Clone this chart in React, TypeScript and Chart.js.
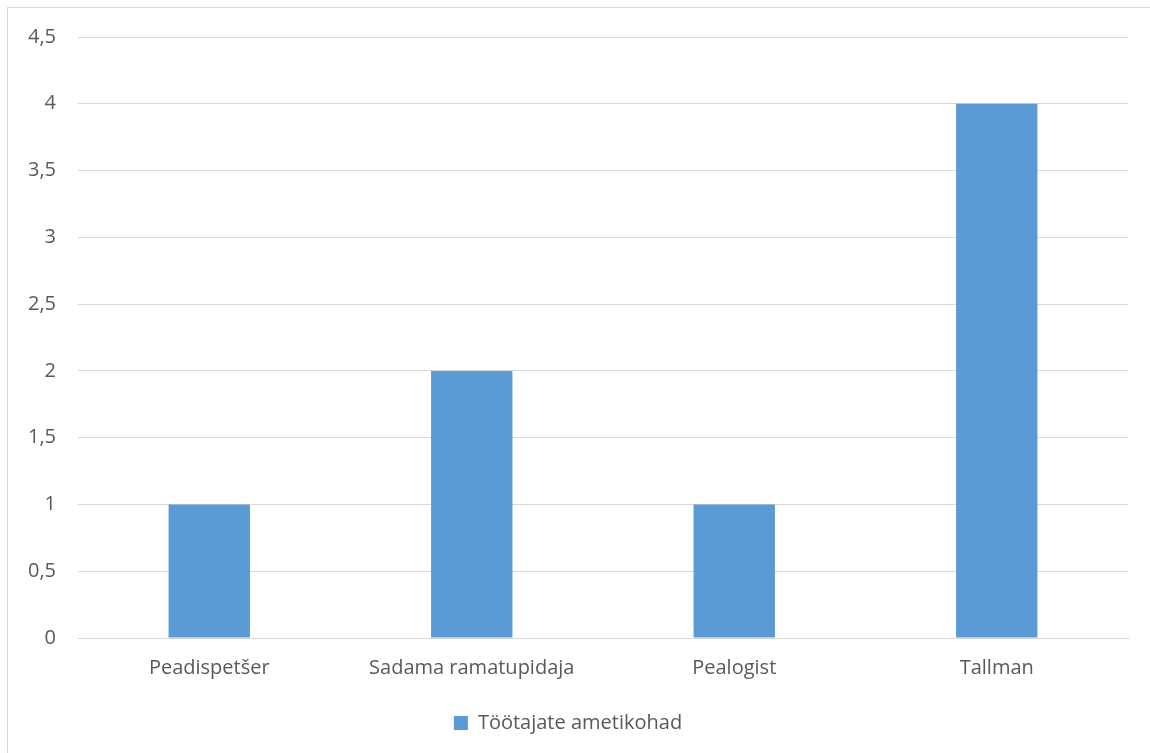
import React, { useEffect, useRef } from "react";
import { Chart, registerables } from "chart.js";

Chart.register(...registerables);

const categories = ["Peadispetšer", "Sadama ramatupidaja", "Pealogist", "Tallman"];
const seriesLabel = "Töötajate ametikohad";
const seriesValues = [1, 2, 1, 4];

const FONT = "'Open Sans', 'Noto Sans', sans-serif";
const TEXT = "#595959";
const GRID = "#d9d9d9";
const SIZE = 20;

export default function App() {
  const ref = useRef<HTMLCanvasElement | null>(null);

  useEffect(() => {
    if (!ref.current) return;
    const chart = new Chart(ref.current, {
      type: "bar",
      data: {
        labels: categories,
        datasets: [
          {
            label: seriesLabel,
            data: seriesValues,
            backgroundColor: "#5b9bd5",
            borderWidth: 0,
            categoryPercentage: 1,
            barPercentage: 0.31,
          },
        ],
      },
      options: {
        animation: false,
        responsive: false,
        maintainAspectRatio: false,
        layout: { padding: { top: 29, right: 22, bottom: 10, left: 0 } },
        plugins: {
          tooltip: { enabled: false },
          legend: {
            position: "bottom",
            labels: {
              boxWidth: 14,
              boxHeight: 14,
              padding: 10,
              color: TEXT,
              font: { family: FONT, size: SIZE },
            },
          },
        },
        scales: {
          x: {
            grid: { display: false, drawTicks: false },
            border: { display: true, color: GRID },
            ticks: { color: TEXT, font: { family: FONT, size: SIZE }, padding: 18 },
            afterFit: (s: any) => {
              s.height = 65;
              s.paddingLeft = 0;
              s.paddingRight = 0;
            },
          },
          y: {
            min: 0,
            max: 4.5,
            grid: { color: GRID, drawTicks: false },
            border: { display: false },
            ticks: {
              stepSize: 0.5,
              color: TEXT,
              padding: 22,
              font: { family: FONT, size: SIZE },
              callback: (v: any) => String(v).replace(".", ","),
            },
            afterFit: (s: any) => {
              s.width = 70;
              s.paddingTop = 0;
              s.paddingBottom = 0;
            },
          },
        },
      },
    });
    return () => chart.destroy();
  }, []);

  return (
    <div
      style={{
        position: "absolute",
        left: 7,
        top: 7,
        width: 1160,
        height: 760,
        border: "1px solid #d9d9d9",
        background: "#fff",
      }}
    >
      <canvas ref={ref} width={1142} height={745} style={{ display: "block" }} />
    </div>
  );
}
